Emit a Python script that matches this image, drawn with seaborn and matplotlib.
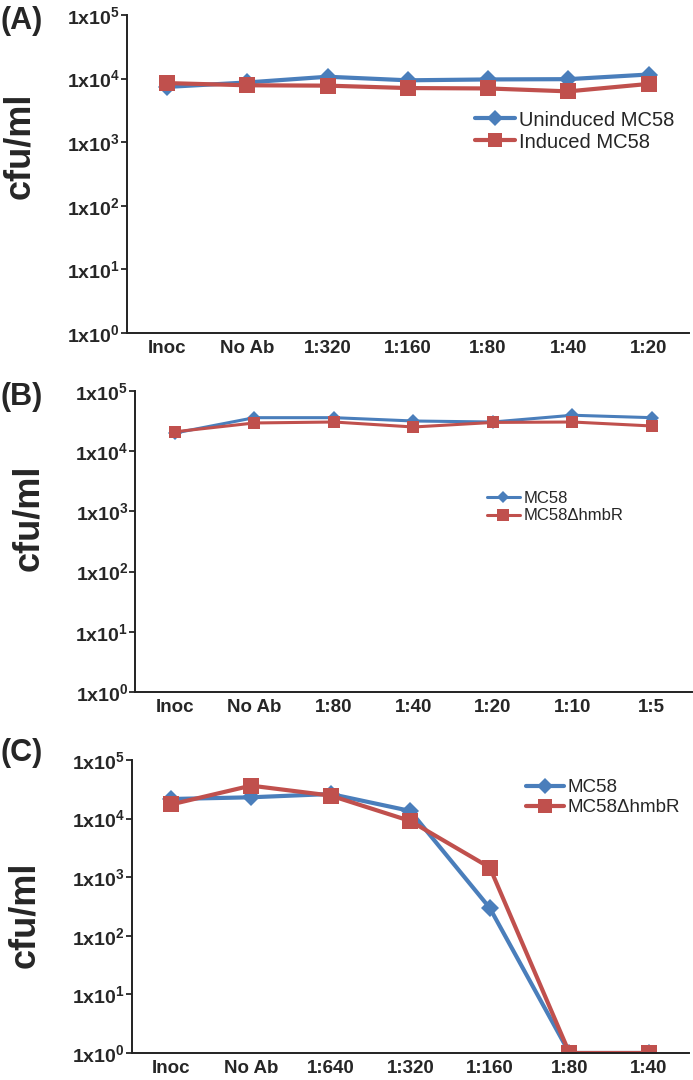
import pandas as pd
import numpy as np
import matplotlib
matplotlib.use('Agg')
import matplotlib.pyplot as plt
import seaborn as sns

sns.set_style('white')
plt.rcParams['font.family'] = ['Liberation Sans', 'DejaVu Sans']
plt.rcParams['mathtext.default'] = 'regular'

# panel A
cats_a = ['Inoc', 'No Ab', '1:320', '1:160', '1:80', '1:40', '1:20']
uninduced_a = [7400, 8700, 10700, 9400, 9700, 9800, 11600]
induced_a = [8500, 7850, 7750, 7100, 7000, 6300, 8250]
names_a = ['Uninduced MC58', 'Induced MC58']

# panel B
cats_b = ['Inoc', 'No Ab', '1:80', '1:40', '1:20', '1:10', '1:5']
mc58_b = [20000, 36000, 36000, 31700, 30500, 39500, 36000]
hmbr_b = [21000, 29400, 30500, 25200, 30000, 30500, 26200]

# panel C
cats_c = ['Inoc', 'No Ab', '1:640', '1:320', '1:160', '1:80', '1:40']
mc58_c = [21600, 23100, 26300, 13500, 297, 1, 1]
hmbr_c = [17500, 36500, 24700, 9100, 1460, 1, 1]
names_bc = ['MC58', 'MC58\u0394hmbR']

blue = '#4A7EBB'
red = '#C0504D'
decades = [1, 10, 100, 1000, 10000, 100000]
dec_labels = ['1x10$^{%d}$' % k for k in range(6)]


def panel(ax, cats, s1, s2, names, lw, ms1, ms2, leg_size, leg_anchor, ylab_y):
    df = pd.DataFrame({
        'x': cats + cats,
        'y': s1 + s2,
        'series': [names[0]] * len(cats) + [names[1]] * len(cats),
    })
    sns.lineplot(data=df, x='x', y='y', hue='series', style='series',
                 palette=[blue, red], markers=['D', 's'], dashes=False,
                 linewidth=lw, markeredgewidth=0, sort=False, ax=ax)
    for line, ms in zip(ax.get_lines()[:2], [ms1, ms2]):
        line.set_markersize(ms)
    ax.set_yscale('log')
    ax.set_ylim(1, 1e5)
    ax.set_yticks(decades)
    ax.set_yticklabels(dec_labels, fontsize=14, fontweight='bold')
    ax.yaxis.set_minor_locator(matplotlib.ticker.NullLocator())
    ax.set_xlim(-0.5, len(cats) - 0.5)
    ax.set_xticks(range(len(cats)))
    ax.set_xticklabels(cats, fontsize=13.5, fontweight='bold')
    ax.set_xticks(np.arange(-0.5, len(cats), 1), minor=True)
    ax.tick_params(axis='x', which='major', length=0, pad=5)
    ax.tick_params(axis='x', which='minor', length=5, width=1.3, direction='out')
    ax.tick_params(axis='y', length=4, width=1.3, direction='out', pad=1, left=True)
    for s in ['top', 'right']:
        ax.spines[s].set_visible(False)
    for s in ['left', 'bottom']:
        ax.spines[s].set_linewidth(1.4)
        ax.spines[s].set_color('#222222')
    ax.set_xlabel('')
    ax.set_ylabel('cfu/ml', fontsize=26, fontweight='bold')
    ax.yaxis.set_label_coords(-0.16, ylab_y)
    h, l = ax.get_legend_handles_labels()
    for hh, ms in zip(h, [ms1, ms2]):
        hh.set_linewidth(lw)
        hh.set_markersize(ms * 0.9)
        hh.set_markeredgewidth(0)
    ax.legend(h, l, loc='upper left', bbox_to_anchor=leg_anchor, frameon=False,
              fontsize=leg_size, handlelength=2.0, handletextpad=0.2,
              labelspacing=0.15, borderaxespad=0)


fig = plt.figure(figsize=(6.93, 10.8), dpi=100)
ax_a = fig.add_axes([0.183, 0.6917, 0.811, 0.2944])
ax_b = fig.add_axes([0.195, 0.3593, 0.803, 0.2787])
ax_c = fig.add_axes([0.190, 0.0250, 0.804, 0.2713])

panel(ax_a, cats_a, uninduced_a, induced_a, names_a, 3.0, 9, 11, 14.5,
      (0.605, 0.725), 0.59)
panel(ax_b, cats_b, mc58_b, hmbr_b, names_bc, 2.2, 7, 9, 12,
      (0.62, 0.69), 0.58)
panel(ax_c, cats_c, mc58_c, hmbr_c, names_bc, 3.0, 9, 11, 13.5,
      (0.695, 0.96), 0.47)

fig.text(0.0, 1 - 21 / 1080, '(A)', fontsize=22, fontweight='bold', va='center')
fig.text(0.0, 1 - 397 / 1080, '(B)', fontsize=22, fontweight='bold', va='center')
fig.text(0.0, 1 - 753 / 1080, '(C)', fontsize=22, fontweight='bold', va='center')

plt.savefig('out.png', dpi=100)
